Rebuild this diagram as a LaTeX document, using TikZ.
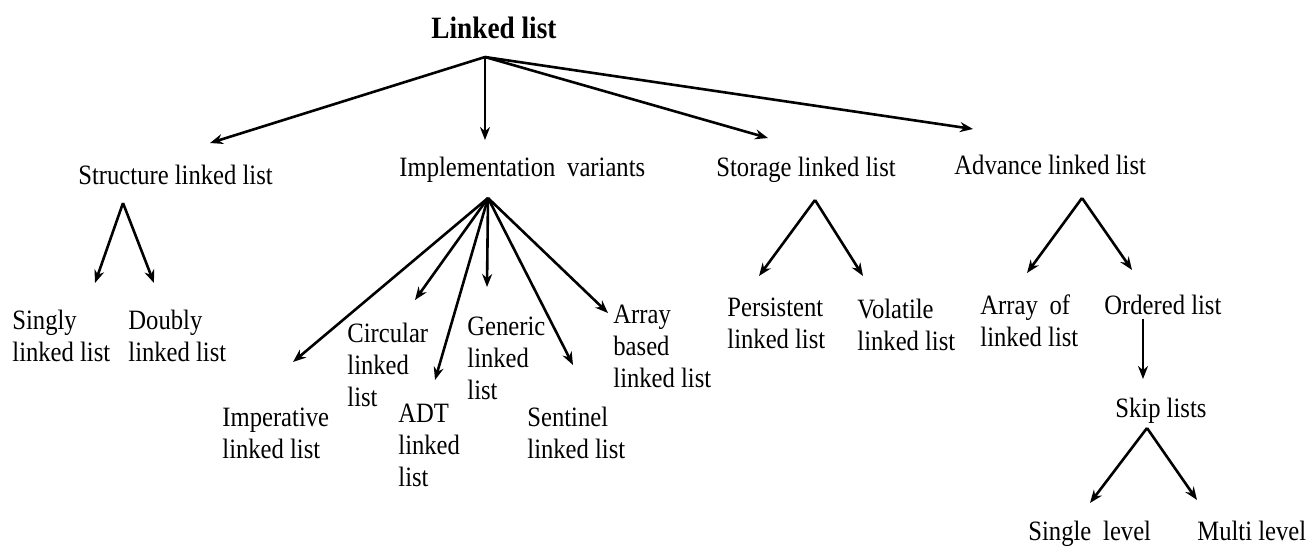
\documentclass[tikz,border=0pt]{standalone}
\usepackage{fontspec}
\setmainfont{Liberation Serif}[FakeStretch=0.88]
\usepackage{tikz}
\usetikzlibrary{calc, arrows.meta}
\usetikzlibrary{positioning}

\begin{document}
\begin{tikzpicture}[x=0.5pt, y=-0.5pt,
    txt/.style={anchor=base west, align=left, inner sep=0pt, font=\fontsize{14}{16}\selectfont},
    link/.style={-{Stealth[length=6.5pt, width=5pt]}, line width=1.3pt}]
    \useasboundingbox (0,0) rectangle (1316,554);
    \node[anchor=base, inner sep=0pt, font=\fontsize{15.5}{16}\selectfont\bfseries] (root) at (494,38) {Linked list};
    \node[txt] (struct) at (78,184) {Structure linked list};
    \node[txt] (impl) at (399,176) {Implementation\hspace{0.2em} variants};
    \node[txt] (stor) at (716,176) {Storage linked list};
    \node[txt] (adv) at (954,174) {Advance linked list};
    % multi-line nodes sit on their last line
    \node[txt] (singly) at (12,361) {Singly\\linked list};
    \node[txt] (doubly) at (128,361) {Doubly\\linked list};
    \node[txt] (imper) at (222,458) {Imperative\\linked list};
    \node[txt] (circ) at (347,406) {Circular\\linked\\list};
    \node[txt] (adt) at (398,486) {ADT\\linked\\list};
    \node[txt] (gener) at (467,399) {Generic\\linked\\list};
    \node[txt] (senti) at (527,458) {Sentinel\\linked list};
    \node[txt] (arrb) at (613,387) {Array\\based\\linked list};
    \node[txt] (persi) at (727,348) {Persistent\\linked list};
    \node[txt] (vola) at (857,350) {Volatile\\linked list};
    \node[txt] (arrof) at (980,346) {Array\hspace{0.2em} of\\linked list};
    \node[txt] (order) at (1104,314) {Ordered list};
    \node[txt] (skip) at (1115,417) {Skip lists};
    \node[txt] (single) at (1028,540) {Single\hspace{0.2em} level};
    \node[txt] (multi) at (1197,540) {Multi level};
    % fan points and arrow tips
    \coordinate (root-o) at (485,57);
    \coordinate (struct-o) at (123,203);
    \coordinate (impl-o) at (488,198);
    \coordinate (stor-o) at (815,200);
    \coordinate (adv-o) at (1082,198);
    \coordinate (skip-o) at (1147,428);
    \draw[link] (root-o) -- (210,143) coordinate (struct-t);
    \draw[link] (root-o) -- (485,140) coordinate (impl-t);
    \draw[link] (root-o) -- (768,138) coordinate (stor-t);
    \draw[link] (root-o) -- (973,129) coordinate (adv-t);
    \draw[link] (struct-o) -- (95,283) coordinate (singly-t);
    \draw[link] (struct-o) -- (154,283) coordinate (doubly-t);
    \draw[link] (impl-o) -- (293,362) coordinate (imper-t);
    \draw[link] (impl-o) -- (415,300) coordinate (circ-t);
    \draw[link] (impl-o) -- (435,380) coordinate (adt-t);
    \draw[link] (impl-o) -- (487,287) coordinate (gener-t);
    \draw[link] (impl-o) -- (573,365) coordinate (senti-t);
    \draw[link] (impl-o) -- (608,313) coordinate (arrb-t);
    \draw[link] (stor-o) -- (759,276) coordinate (persi-t);
    \draw[link] (stor-o) -- (863,276) coordinate (vola-t);
    \draw[link] (adv-o) -- (1027,273) coordinate (arrof-t);
    \draw[link] (adv-o) -- (1132,270) coordinate (order-t);
    \draw[link] (order.south -| 1143,0) ++(0,4) -- (1143,379) coordinate (skip-t);
    \draw[link] (skip-o) -- (1090,503) coordinate (single-t);
    \draw[link] (skip-o) -- (1197,500) coordinate (multi-t);
\end{tikzpicture}
\end{document}
